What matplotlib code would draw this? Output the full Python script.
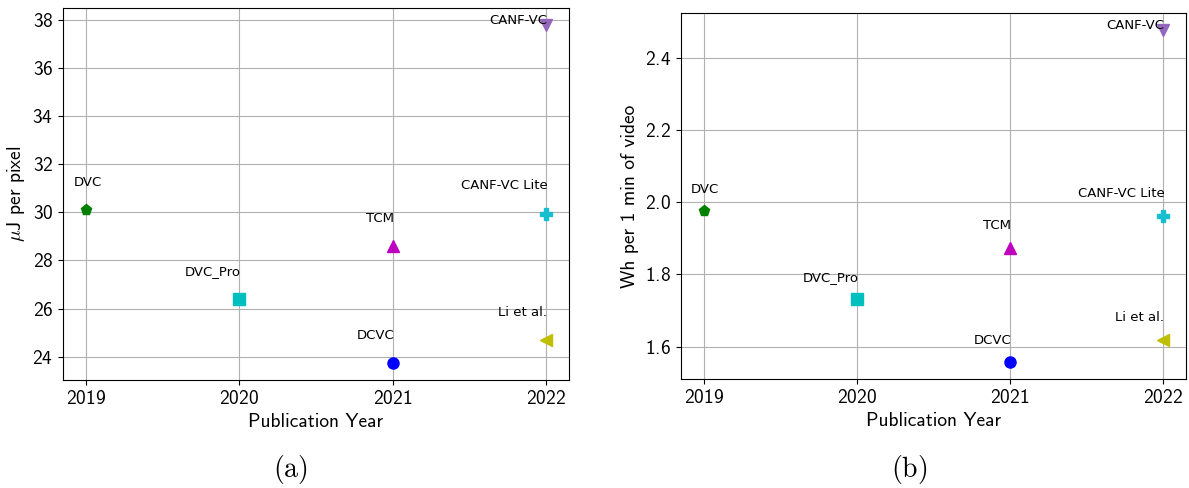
import matplotlib
matplotlib.use("Agg")
import matplotlib.pyplot as plt

plt.rcParams['font.family'] = ['cmss10', 'DejaVu Sans']
plt.rcParams['mathtext.fontset'] = 'cm'
plt.rcParams['axes.formatter.use_mathtext'] = True

# data
methods = ["DVC", "DVC_Pro", "DCVC", "TCM", "CANF-VC", "CANF-VC Lite", "Li et al."]
years = [2019, 2020, 2021, 2021, 2022, 2022, 2022]
uj_per_pixel = [30.1, 26.4, 23.73, 28.6, 37.8, 29.95, 24.7]
wh_per_min = [1.975, 1.731, 1.556, 1.873, 2.48, 1.962, 1.619]

# style per method
markers = ["p", "s", "o", "^", "v", "P", "<"]
colors = ["g", "c", "b", "m", "tab:purple", "tab:cyan", "y"]
label_ha = ["center", "right", "right", "right", "right", "right", "right"]

fig = plt.figure(figsize=(11.89, 4.88), dpi=100)
ax1 = fig.add_axes([0.053, 0.2213, 0.4256, 0.7623])
ax2 = fig.add_axes([0.5727, 0.2234, 0.4247, 0.75])


def draw(ax, values, ylabel, dy):
    for i in range(len(methods)):
        ax.plot(years[i], values[i], marker=markers[i], color=colors[i],
                markersize=8, linestyle="none")
        off = 3 if methods[i] == "CANF-VC" else dy
        ax.annotate(methods[i], (years[i], values[i]), textcoords="offset points",
                    xytext=(1, off), ha=label_ha[i], va="center", fontsize=9.5,
                    family=['DejaVu Sans'])
    ax.set_xticks([2019, 2020, 2021, 2022])
    ax.grid(True)
    ax.set_xlabel("Publication Year", fontsize=14)
    ax.set_ylabel(ylabel, fontsize=14)
    ax.tick_params(labelsize=14)


draw(ax1, uj_per_pixel, r"$\mu$J per pixel", 20)
draw(ax2, wh_per_min, "Wh per 1 min of video", 16)

fig.text(0.244, 1 - 469 / 488, r"$\mathrm{(a)}$", ha="center", va="center", fontsize=20)
fig.text(0.765, 1 - 469 / 488, r"$\mathrm{(b)}$", ha="center", va="center", fontsize=20)

fig.savefig("out.png", dpi=100)
